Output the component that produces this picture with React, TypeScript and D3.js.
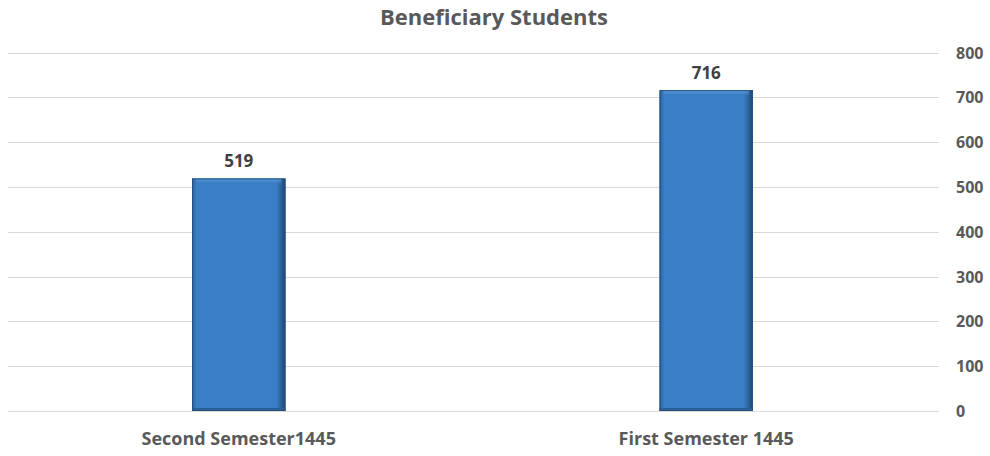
import React from "react";
import * as d3 from "d3";

const categories = ["Second Semester1445", "First Semester 1445"];
const values = [519, 716];
const yTicks = [0, 100, 200, 300, 400, 500, 600, 700, 800];
const title = "Beneficiary Students";

const W = 990;
const H = 456;
const FONT = "'Open Sans', sans-serif";

export default function App() {
  const x = d3.scaleBand<string>().domain(categories).range([5, 940]).paddingInner(0.8).paddingOuter(0.4);
  const y = d3.scaleLinear().domain([0, 800]).range([411, 52.5]);
  const bw = x.bandwidth();
  return (
    <svg width={W} height={H} style={{ position: "absolute", left: 0, top: 0, background: "#fff" }}>
      <defs>
        <linearGradient id="hg" x1="0" x2="1" y1="0" y2="0">
          <stop offset="0" stopColor="#2b5f96" />
          <stop offset="0.05" stopColor="#3a7ec5" />
          <stop offset="0.9" stopColor="#3a7ec5" />
          <stop offset="0.96" stopColor="#2a5e94" />
          <stop offset="1" stopColor="#1c3f66" />
        </linearGradient>
        <linearGradient id="vg" x1="0" x2="0" y1="0" y2="1">
          <stop offset="0" stopColor="#6aa6e2" stopOpacity="0.9" />
          <stop offset="1" stopColor="#3a7ec5" stopOpacity="0" />
        </linearGradient>
      </defs>
      <text x={494} y={25} textAnchor="middle" fontFamily={FONT} fontWeight="bold" fontSize={22} fill="#595959">
        {title}
      </text>
      {yTicks.map((t) => (
        <g key={t}>
          <line x1={8} x2={939} y1={Math.round(y(t)) + 0.5} y2={Math.round(y(t)) + 0.5} stroke="#d9d9d9" strokeWidth={1} />
          <text x={956} y={y(t) + 6} fontFamily={FONT} fontWeight="bold" fontSize={16} fill="#595959">
            {t}
          </text>
        </g>
      ))}
      {categories.map((c, i) => {
        const bx = x(c)!;
        const by = y(values[i]);
        const bh = y(0) - by;
        return (
          <g key={c}>
            <rect x={bx} y={by} width={bw} height={bh} fill="url(#hg)" />
            <rect x={bx + 4} y={by} width={bw - 8} height={6} fill="url(#vg)" />
            <rect x={bx} y={y(0) - 3} width={bw} height={3} fill="#2b5f96" />
            <rect x={bx + 0.5} y={by + 0.5} width={bw - 1} height={bh - 1} fill="none" stroke="#24527f" strokeWidth={1} />
            <text x={bx + bw / 2} y={by - 11} textAnchor="middle" fontFamily={FONT} fontWeight="bold" fontSize={17} fill="#404040">
              {values[i]}
            </text>
            <text x={bx + bw / 2} y={445} textAnchor="middle" fontFamily={FONT} fontWeight="bold" fontSize={18} fill="#595959">
              {c}
            </text>
          </g>
        );
      })}
    </svg>
  );
}
